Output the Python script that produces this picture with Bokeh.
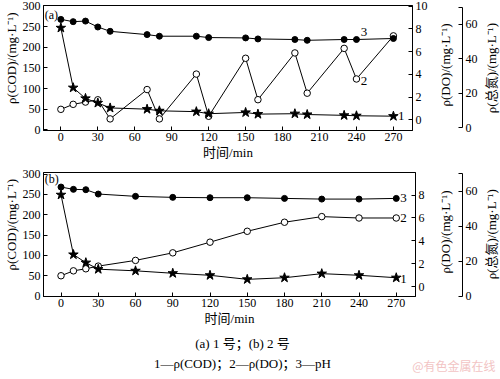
import math
from bokeh.plotting import figure
from bokeh.models import Range1d, LinearAxis, FixedTicker
from bokeh.layouts import column, row
from bokeh.core.properties import value
from bokeh.embed import file_html
from bokeh.resources import INLINE

# ---------------- data ----------------
# panel (a): reactor No.1
time_a = [0, 10, 20, 30, 40, 70, 80, 110, 120, 150, 160, 190, 200, 230, 240, 270]
cod_a = [247, 102, 76, 65, 53, 50, 46, 44, 39, 42, 38, 39, 37, 35, 34, 33]
do_a = [0.93, 1.37, 1.57, 1.77, 0.09, 2.67, 0.09, 4.03, 0.32, 5.42, 1.78, 5.89, 2.35, 6.29, 3.6, 7.39]
ph_a = [8.84, 8.64, 8.69, 8.17, 7.79, 7.5, 7.36, 7.36, 7.24, 7.21, 7.12, 7.07, 7.0, 7.07, 7.07, 7.16]

# panel (b): reactor No.2
time_b = [0, 10, 20, 30, 60, 90, 120, 150, 180, 210, 240, 270]
cod_b = [249, 102, 82, 66, 62, 56, 51, 41, 45, 55, 51, 45]
do_b = [0.96, 1.39, 1.57, 1.8, 2.3, 2.96, 3.89, 4.84, 5.63, 6.12, 6.0, 6.0]
ph_b = [8.7, 8.5, 8.47, 8.09, 7.89, 7.8, 7.77, 7.77, 7.71, 7.65, 7.65, 7.71]

x_ticks = [0, 30, 60, 90, 120, 150, 180, 210, 240, 270]
cod_ticks = [0, 50, 100, 150, 200, 250, 300]
do_ticks = [0, 2, 4, 6, 8, 10]
tn_ticks = [0, 20, 40, 60, 70]
tn_labels = {70: ""}

x_label = "时间/min"
cod_label = "ρ(COD)/(mg·L⁻¹)"
do_label = "ρ(DO)/(mg·L⁻¹)"
tn_label = "ρ(总氮)/(mg·L⁻¹)"
panel_tags = ["(a)", "(b)"]
series_tags = ["1", "2", "3"]
caption_lines = ["(a) 1 号；(b) 2 号", "1—ρ(COD)；2—ρ(DO)；3—pH"]
watermark = "@有色金属在线"

SERIF = "Liberation Serif"
MIX = "Liberation Serif, Noto Sans CJK SC"


def style_axis(ax, font=SERIF):
    ax.axis_line_color = "black"
    ax.axis_line_width = 1
    ax.major_tick_in = 4
    ax.major_tick_out = 0
    ax.minor_tick_line_color = None
    ax.major_tick_line_color = "black"
    ax.major_label_text_font = SERIF
    ax.major_label_text_font_size = "12px"
    ax.major_label_text_color = "black"
    ax.major_label_standoff = 3
    ax.axis_label_text_font = font
    ax.axis_label_text_font_size = "13px"
    ax.axis_label_text_font_style = "normal"
    ax.axis_label_text_color = "black"


def plain(p):
    p.grid.visible = False
    p.outline_line_color = None
    p.background_fill_color = "white"
    p.border_fill_color = "white"


def build(t, cod, do, ph, ylim, dolim, tnlim, tag, tag_pos, num_pos, lab_y, h, bt, bb):
    # ---- main panel: frame, COD axis (left), time axis, DO axis (right) ----
    p = figure(width=430, height=h, output_backend="svg", toolbar_location=None,
               x_range=Range1d(-14.1, 285.5), y_range=Range1d(*ylim),
               min_border_left=42, min_border_right=15, min_border_top=bt, min_border_bottom=bb)
    p.extra_y_ranges = {"do": Range1d(*dolim)}
    p.grid.visible = False
    p.outline_line_color = "black"
    p.outline_line_alpha = 1
    p.background_fill_color = "white"
    p.border_fill_color = "white"

    xa = p.xaxis[0]
    style_axis(xa, MIX)
    xa.axis_label = x_label
    xa.ticker = FixedTicker(ticks=x_ticks)
    xa.major_label_standoff = 2
    xa.axis_label_standoff = 1

    ya = p.yaxis[0]
    style_axis(ya, SERIF)
    ya.ticker = FixedTicker(ticks=cod_ticks)
    ya.axis_label = "\u00a0" * 6 + cod_label
    ya.axis_label_standoff = 1

    da = LinearAxis(y_range_name="do")
    style_axis(da)
    da.ticker = FixedTicker(ticks=do_ticks)
    p.add_layout(da, "right")

    # DO (open circles)
    p.line(t, do, y_range_name="do", line_color="black", line_width=1)
    p.scatter(t, do, y_range_name="do", marker="circle", size=6.5,
              fill_color="white", line_color="black", line_width=1)
    # pH (filled circles)
    p.line(t, ph, y_range_name="do", line_color="black", line_width=1)
    p.scatter(t, ph, y_range_name="do", marker="circle", size=6,
              fill_color="black", line_color="black")
    # COD (stars)
    p.line(t, cod, line_color="black", line_width=1)
    p.scatter(t, cod, marker="star", size=10, fill_color="black", line_color="black")

    p.text(x=[tag_pos[0]], y=[tag_pos[1]], text=[tag], text_font=value(SERIF),
           text_font_size="12px", text_align="left", text_baseline="middle", text_color="black")
    p.text(x=[q[0] for q in num_pos], y=[q[1] for q in num_pos], text=series_tags,
           y_range_name="do", text_font=value(SERIF), text_font_size="13px",
           text_align="left", text_baseline="middle", text_color="black")

    # ---- side 1: DO title + detached total-nitrogen axis ----
    s1 = figure(width=50, height=h, output_backend="svg", toolbar_location=None,
                x_range=Range1d(0, 34), y_range=Range1d(*tnlim),
                x_axis_location=None, y_axis_location="right",
                min_border_left=0, min_border_right=16, min_border_top=bt, min_border_bottom=bb)
    plain(s1)
    s1.extra_y_ranges = {"do": Range1d(*dolim)}
    na = s1.yaxis[0]
    style_axis(na)
    na.bounds = (0, 70)
    na.ticker = FixedTicker(ticks=tn_ticks)
    na.major_label_overrides = tn_labels
    na.major_label_standoff = 3
    s1.text(x=[16], y=[lab_y[1]], text=[do_label], y_range_name="do", angle=math.pi / 2,
            text_font=value(MIX), text_font_size="13px", text_align="center",
            text_baseline="middle", text_color="black")

    # ---- side 2: total-nitrogen title ----
    s2 = figure(width=20, height=h, output_backend="svg", toolbar_location=None,
                x_range=Range1d(0, 20), y_range=Range1d(*dolim),
                x_axis_location=None, y_axis_location=None,
                min_border_left=0, min_border_right=0, min_border_top=bt, min_border_bottom=bb)
    plain(s2)
    s2.text(x=[11], y=[lab_y[2]], text=[tn_label], angle=math.pi / 2,
            text_font=value(MIX), text_font_size="13px", text_align="center",
            text_baseline="middle", text_color="black")
    return row(p, s1, s2, spacing=0)


pa = build(time_a, cod_a, do_a, ph_a, (-1.7, 301.2), (-0.93, 10.06), (-1.7, 71),
           panel_tags[0], (-13.1, 277),
           [(273.8, 0.33), (243.4, 3.46), (243.5, 7.7)], (179.8, 4.83, 4.56), 165, 5, 35)
pb = build(time_b, cod_b, do_b, ph_b, (-1.2, 303.9), (-0.85, 9.97), (-0.28, 70.65),
           panel_tags[1], (-13.1, 287),
           [(273.3, 0.69), (273.3, 6.0), (273.3, 7.71)], (177.7, 4.78, 4.58), 166, 7, 35)

pc = figure(width=500, height=47, output_backend="svg", toolbar_location=None,
            x_range=Range1d(0, 500), y_range=Range1d(47, 0), min_border=0)
pc.axis.visible = False
plain(pc)
pc.text(x=[242, 242], y=[12, 32], text=caption_lines, text_font=value(MIX),
        text_font_size="13px", text_align="center", text_baseline="middle", text_color="black")
pc.text(x=[495], y=[34], text=[watermark], text_font=value("Noto Sans CJK SC"),
        text_font_size="12px", text_align="right", text_baseline="middle", text_color="#f2c4c4")

layout = column(pa, pb, pc, spacing=0)
open("out.html", "w").write(file_html(layout, INLINE))
